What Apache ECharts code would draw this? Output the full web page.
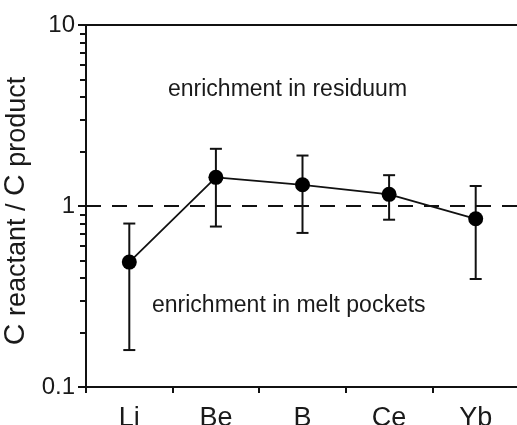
<!DOCTYPE html>
<html>
<head>
<meta charset="utf-8">
<script src="https://cdn.jsdelivr.net/npm/echarts@6/dist/echarts.min.js"></script>
<style>
  html, body { margin: 0; padding: 0; background: #fff; }
  #chart { width: 517px; height: 425px; }
</style>
</head>
<body>
<div id="chart"></div>
<script>
// Elements on the horizontal axis
const elements = ['Li', 'Be', 'B', 'Ce', 'Yb'];
// Concentration ratio C reactant / C product (mean)
const ratio = [0.49, 1.44, 1.31, 1.16, 0.85];
// Lower and upper ends of the error bars
const ratioLow = [0.16, 0.77, 0.71, 0.84, 0.395];
const ratioHigh = [0.80, 2.07, 1.90, 1.48, 1.29];
// Log axis ticks
const majorTicks = [0.1, 1, 10];
const minorTicks = [0.2, 0.3, 0.4, 0.5, 0.6, 0.7, 0.8, 0.9, 2, 3, 4, 5, 6, 7, 8, 9];
const referenceLevel = 1;

const FONT = '"Liberation Sans", Arial, sans-serif';
const INK = '#111';
const TEXT = '#1a1a1a';

const errorData = elements.map((_, i) => [i, ratioLow[i], ratioHigh[i]]);

const chart = echarts.init(document.getElementById('chart'), null, { renderer: 'canvas' });

chart.setOption({
  animation: false,
  backgroundColor: '#fff',
  grid: { left: 86, top: 25, right: -2, bottom: 38, containLabel: false, outerBoundsMode: 'none' },
  xAxis: [
    {
      type: 'category',
      data: elements,
      boundaryGap: true,
      axisLine: { show: true, lineStyle: { color: INK, width: 2 } },
      axisTick: { show: true, inside: false, length: 6, alignWithLabel: false, lineStyle: { color: INK, width: 2 } },
      axisLabel: { fontFamily: FONT, fontSize: 27, color: TEXT, margin: 18 },
      splitLine: { show: false }
    },
    {
      // top frame line
      type: 'category',
      position: 'top',
      data: elements,
      axisLine: { show: true, lineStyle: { color: INK, width: 2 } },
      axisTick: { show: false },
      axisLabel: { show: false },
      splitLine: { show: false }
    }
  ],
  yAxis: [
    {
      type: 'log',
      logBase: 10,
      min: 0.1,
      max: 10,
      position: 'left',
      name: '{c|C}{s| reactant / }{c|C}{s| product}',
      nameLocation: 'middle',
      nameGap: 47,
      nameRotate: 90,
      nameTextStyle: {
        color: TEXT,
        fontFamily: FONT,
        padding: [0, 10, 0, 0],
        rich: {
          c: { fontSize: 30, fontFamily: FONT, color: TEXT, verticalAlign: 'bottom' },
          s: { fontSize: 27, fontFamily: FONT, color: TEXT, verticalAlign: 'bottom' }
        }
      },
      axisLine: { show: true, lineStyle: { color: INK, width: 2 } },
      axisTick: { show: true, length: 8, customValues: majorTicks, lineStyle: { color: INK, width: 2 } },
      axisLabel: {
        fontFamily: FONT, fontSize: 24, color: TEXT, margin: 11,
        customValues: majorTicks,
        formatter: v => String(+Number(v).toPrecision(3))
      },
      splitLine: { show: false }
    },
    {
      // minor ticks of the log scale
      type: 'log',
      logBase: 10,
      min: 0.1,
      max: 10,
      position: 'left',
      axisLine: { show: false },
      axisTick: { show: true, length: 6, customValues: minorTicks, lineStyle: { color: INK, width: 2 } },
      axisLabel: { show: false },
      splitLine: { show: false }
    }
  ],
  graphic: [
    {
      type: 'text', left: 168, top: 78,
      style: { text: 'enrichment in residuum', font: '23px ' + FONT, fill: TEXT }
    },
    {
      type: 'text', left: 152, top: 294,
      style: { text: 'enrichment in melt pockets', font: '23px ' + FONT, fill: TEXT }
    }
  ],
  series: [
    {
      type: 'custom',
      name: 'error',
      xAxisIndex: 0,
      yAxisIndex: 0,
      z: 2,
      data: errorData,
      renderItem: function (params, api) {
        const x = api.value(0);
        const lo = api.coord([x, api.value(1)]);
        const hi = api.coord([x, api.value(2)]);
        const half = 6;
        const st = { stroke: INK, lineWidth: 2 };
        return {
          type: 'group',
          children: [
            { type: 'line', shape: { x1: hi[0], y1: hi[1], x2: lo[0], y2: lo[1] }, style: st },
            { type: 'line', shape: { x1: hi[0] - half, y1: hi[1], x2: hi[0] + half, y2: hi[1] }, style: st },
            { type: 'line', shape: { x1: lo[0] - half, y1: lo[1], x2: lo[0] + half, y2: lo[1] }, style: st }
          ]
        };
      }
    },
    {
      type: 'line',
      name: 'ratio',
      xAxisIndex: 0,
      yAxisIndex: 0,
      z: 3,
      data: ratio,
      symbol: 'circle',
      symbolSize: 15,
      itemStyle: { color: '#000' },
      lineStyle: { color: INK, width: 1.8 },
      markLine: {
        silent: true,
        symbol: ['none', 'none'],
        label: { show: false },
        lineStyle: { color: INK, width: 2, type: [15, 11] },
        data: [{ yAxis: referenceLevel }]
      }
    }
  ]
});
</script>
</body>
</html>
